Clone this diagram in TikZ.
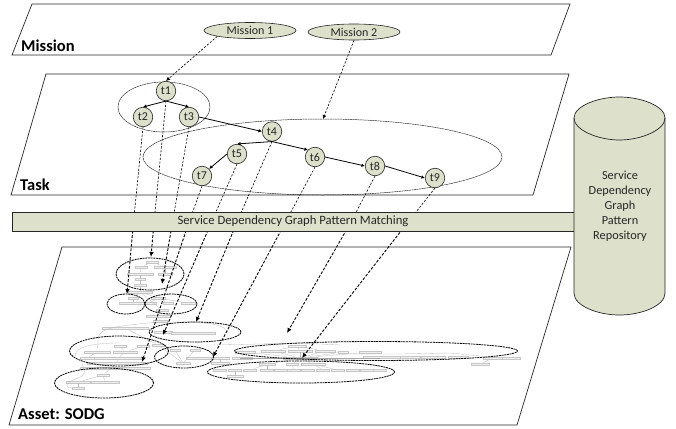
\documentclass[tikz,border=0pt]{standalone}
\usepackage{fontspec}
\setmainfont{Carlito}
\usetikzlibrary{shapes.geometric,arrows.meta}
\definecolor{olive}{HTML}{DDE1CB}
\definecolor{ink}{HTML}{262626}
\tikzset{
 plane/.style={draw=ink,line width=.7pt},
 layername/.style={font=\fontsize{16.5}{18}\selectfont\bfseries,anchor=west,inner sep=0pt,text=black},
 task/.style={circle,draw=ink,fill=olive,line width=.6pt,minimum size=19.5pt,inner sep=0pt,font=\fontsize{12}{14}\selectfont,text=ink},
 goal/.style={ellipse,draw=ink,fill=olive,line width=.6pt,inner sep=0pt,minimum width=92pt,minimum height=16pt,font=\fontsize{12}{14}\selectfont,text=ink},
 link/.style={draw=black,line width=.8pt,-{Latex[length=3.5pt,width=3.5pt]}},
 upmap/.style={draw=black,line width=.6pt,dash pattern=on 2.2pt off 1.6pt},
 upmaptip/.style={upmap,-{Latex[length=4pt,width=4pt]}},
 lowmap/.style={draw=black,line width=.9pt,dash pattern=on 2.8pt off 1.6pt,-{Latex[length=5pt,width=4.5pt]}},
 upgroup/.style={ellipse,draw=ink,line width=.5pt,dash pattern=on 2pt off .5pt,inner sep=0pt},
 lowgroup/.style={ellipse,draw=black,line width=.8pt,dash pattern=on 2pt off .7pt,inner sep=0pt},
 minibox/.style={draw=gray!45,fill=gray!12,line width=.2pt,inner sep=0pt,minimum height=2.6pt},
 miniedge/.style={draw=gray!55,line width=.3pt},
}
\begin{document}
\begin{tikzpicture}[x=1pt,y=-1pt]
\useasboundingbox (0,0) rectangle (676,428);
% layers
\draw[plane] (32,4) -- (570,4) -- (551,55) -- (12,55) -- cycle;
\draw[plane] (46,74) -- (569,74) -- (533,195) -- (11,195) -- cycle;
\draw[plane] (62,247) -- (571,247) -- (517,425) -- (9,425) -- cycle;
\node[layername] (lm) at (21,46) {Mission};
\node[layername] (lt) at (20,185) {Task};
\node[layername] (la) at (18,414) {Asset: SODG};
% small service graph
\foreach \n/\x/\y/\w in {
 a1/152/262/12,a2/141/267/12,a3/165/267/22,a4/140/274/26,a5/165/274/14,a6/140/279/10,a7/140/285/12,a8/140/292/24,
 a9/133/298/10,a10/133/303/28,a11/158/298/14,a12/150/303/12,a13/168/303/10,a14/188/303/14,a15/162/310/12,a16/158/316/24,a17/160/321/14,
 b1/125/328/46,b2/163/332/18,b3/193/333/44,b4/120/346/12,b5/143/346/12,b6/158/345/12,b7/175/350/10,b8/195/350/10,
 b9/97/352/26,b10/125/352/24,b11/87/358/14,b12/118/358/48,b13/183/363/14,b14/200/358/28,b15/117/363/60,
 b16/103/375/12,b17/78/382/24,b18/105/382/28,b19/78/388/12,b20/115/368/70,
 c1/297/346/18,c2/245/352/20,c3/273/351/24,c4/300/351/24,c5/325/351/20,c6/343/352/10,c7/370/352/22,
 d1/385/357/44,d2/410/357/20,d3/433/357/24,d4/458/357/20,d5/493/358/20,d6/511/358/18,d7/480/364/18,
 e1/220/358/18,e2/242/358/20,e3/220/363/18,e4/267/364/16,e5/292/364/12,e6/313/364/24,e7/300/358/34,
 r1/220/370/13,r2/235/370/13,r3/250/370/13,r4/267/370/13,r5/281/370/13,r6/294/370/13,r7/308/370/13,r8/323/370/13,r9/338/370/13,r10/353/370/13,r11/367/370/13,r12/380/370/13,r13/235/376/16}
 \node[minibox,minimum width=\w pt] (\n) at (\x,\y) {};
\foreach \p/\q in {a1/a2,a1/a3,a2/a4,a3/a5,a4/a6,a6/a7,a7/a8,a8/a9,a8/a11,a9/a10,a11/a12,a11/a13,a11/a14,a8/a15,a15/a16,a16/a17,
 b1/b6,b4/b10,b5/b10,b6/b13,b7/b13,b8/b13,b9/b11,b10/b12,b12/b15,b15/b16,b16/b17,b16/b18,b17/b19,
 c1/c3,c1/c4,c1/c5,c4/e7,c3/e7,c5/e7,c2/e7,c6/e7,c7/e7,e1/e3,d5/d7,e7/e5,e7/e6,e7/e4,e4/r4,e5/r6,e6/r8,e4/r3,e6/r9,r2/r13}
 \draw[miniedge] (\p) -- (\q);
\draw[miniedge] (98,345) .. controls (97,330) and (100,327) .. (160,322);
\draw[miniedge] (98,345) -- (97,349);
\draw[miniedge] (160,322) .. controls (200,322) and (222,322) .. (228,332);
\draw[miniedge] (75,358) .. controls (72,345) and (100,343) .. (120,343);
\draw[miniedge] (82,363) .. controls (84,372) and (88,374) .. (78,378) .. controls (62,384) and (66,388) .. (72,388);
\draw[miniedge] (212,345) -- (260,344) -- (300,343) -- (340,345);
\draw[miniedge] (340,354) -- (400,354) -- (450,353) -- (480,356);
\draw[draw=gray!70,line width=.8pt] (240,358) -- (380,358);
% asset groups
\node[lowgroup,minimum width=68pt,minimum height=32pt] (g1) at (150,274) {};
\node[lowgroup,minimum width=38pt,minimum height=20pt] (g2) at (126,304) {};
\node[lowgroup,minimum width=52pt,minimum height=20pt] (g3) at (171,304) {};
\node[lowgroup,minimum width=92pt,minimum height=20pt] (g4) at (195,332) {};
\node[lowgroup,minimum width=99pt,minimum height=30pt] (g5) at (119,351) {};
\node[lowgroup,minimum width=59pt,minimum height=22pt] (g6) at (184,357) {};
\node[lowgroup,minimum width=99pt,minimum height=30pt] (g7) at (104,383) {};
\node[lowgroup,minimum width=283pt,minimum height=19pt] (g8) at (376,351) {};
\node[lowgroup,minimum width=187pt,minimum height=22pt] (g9) at (301,372) {};
% task layer
\node[upgroup,minimum width=92pt,minimum height=50pt] (gu1) at (164,107) {};
\node[upgroup,minimum width=359pt,minimum height=76pt] (gu2) at (322.5,157) {};
\node[task] (t1) at (166,91) {t1};
\node[task] (t2) at (143,117) {t2};
\node[task] (t3) at (189,117) {t3};
\node[task] (t4) at (272,131.5) {t4};
\node[task] (t5) at (237,154) {t5};
\node[task] (t6) at (315,157) {t6};
\node[task] (t7) at (202,176) {t7};
\node[task] (t8) at (375,166) {t8};
\node[task] (t9) at (435,178) {t9};
\draw[link] (t1.south) -- (t2.north);
\draw[link] (t1.south) -- (t3.north);
\draw[link] (t3.east) -- (t4.west);
\draw[link] (t4.south) -- (t5.north);
\draw[link] (t4.south) -- (t6.north west);
\draw[link] (t5.west) -- (t7.north east);
\draw[link] (t6.east) -- (t8.west);
\draw[link] (t8.east) -- (t9.west);
% missions
\node[goal] (m1) at (250,30.5) {Mission 1};
\node[goal] (m2) at (354,32) {Mission 2};
\coordinate (top2) at (323,119);
\draw[upmaptip] (m1.south west) -- (t1.north);
\draw[upmaptip] (m2.south) -- (top2);
% mappings through the matching bar
\foreach \n/\jx/\ex/\ey in {t2/133.5/127/294,t1/154/151/257,t3/172.5/162/284,t7/189/142/362,t5/211.5/163/335,t4/237/196/322,t6/285.5/213/357,t8/351/287/333,t9/408/302/358}{
 \coordinate (j\n) at (\jx,222);
 \coordinate (e\n) at (\ex,\ey);
 \draw[upmap] (\n.south) -- (j\n);
 \draw[lowmap] (j\n) -- (e\n);
}
% matching bar
\node[draw=ink,fill=olive,line width=.7pt,minimum width=564pt,minimum height=19pt,inner sep=0pt,anchor=north west] (bar) at (12,212) {};
\node[inner sep=0pt,text=ink,font=\fontsize{12.7}{14}\selectfont] (bartext) at (293,221.5) {Service Dependency Graph Pattern Matching};
\coordinate (barl) at (12,231.5);
\coordinate (barr) at (575,231.5);
\draw[draw=ink,line width=1.6pt] (barl) -- (barr);
% repository
\draw[draw=ink,fill=olive,line width=.7pt] (574,118) .. controls (574,106) and (598,97) .. (619.5,97) .. controls (641,97) and (665,106) .. (665,118) -- (665,293) .. controls (665,306) and (641,315) .. (619.5,315) .. controls (598,315) and (574,306) .. (574,293) -- cycle;
\draw[draw=ink,line width=.7pt] (574,118) .. controls (574,130) and (598,140) .. (619.5,140) .. controls (641,140) and (665,130) .. (665,118);
\node[align=center,inner sep=0pt,text=ink,font=\fontsize{12.3}{15}\selectfont] (repo) at (620,206) {Service\\Dependency\\Graph\\Pattern\\Repository};
\end{tikzpicture}
\end{document}
